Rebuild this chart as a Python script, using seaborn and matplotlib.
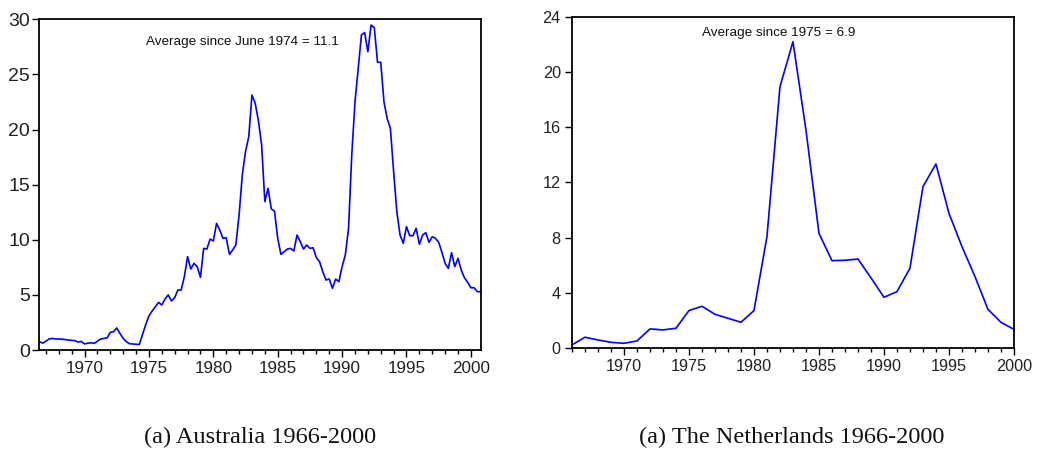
import numpy as np
import pandas as pd
import matplotlib
matplotlib.use("Agg")
import matplotlib.pyplot as plt
from matplotlib.ticker import MultipleLocator
import seaborn as sns

# Australia, quarterly, 1966Q3 .. 2000Q4
aus_start = 1966.5
aus_values = [
    0.76, 0.62,
    0.80, 1.00, 1.05, 1.00,
    1.00, 0.98, 0.95, 0.90,
    0.88, 0.85, 0.72, 0.78,
    0.55, 0.62, 0.66, 0.60,
    0.80, 1.00, 1.05, 1.10,
    1.60, 1.66, 2.00, 1.50,
    1.05, 0.75, 0.57, 0.55,
    0.53, 0.50, 1.40, 2.30,
    3.10, 3.54, 3.93, 4.32,
    4.08, 4.63, 5.00, 4.45,
    4.75, 5.44, 5.44, 6.65,
    8.47, 7.35, 7.86, 7.56,
    6.59, 9.22, 9.16, 10.07,
    9.89, 11.49, 10.89, 10.13,
    10.19, 8.68, 9.07, 9.53,
    12.25, 15.88, 18.00, 19.35,
    23.13, 22.40, 20.80, 18.60,
    13.46, 14.67, 12.80, 12.60,
    10.13, 8.68, 8.92, 9.16,
    9.22, 8.98, 10.43, 9.83,
    9.16, 9.53, 9.22, 9.28,
    8.38, 8.01, 7.10, 6.35,
    6.44, 5.60, 6.44, 6.20,
    7.56, 8.62, 11.04, 17.70,
    22.50, 25.55, 28.57, 28.80,
    27.06, 29.48, 29.24, 26.10,
    26.10, 22.53, 21.00, 20.10,
    16.20, 12.55, 10.43, 9.68,
    11.19, 10.37, 10.37, 11.04,
    9.59, 10.43, 10.64, 9.77,
    10.28, 10.13, 9.77, 8.86,
    7.86, 7.41, 8.83, 7.56,
    8.32, 7.26, 6.56, 6.14,
    5.65, 5.65, 5.29, 5.29,
]

# The Netherlands, annual, 1966 .. 2000
nl_years = list(range(1966, 2001))
nl_values = [
    0.24, 0.80, 0.60, 0.43, 0.36, 0.53, 1.40, 1.33, 1.45, 2.73,
    3.04, 2.46, 2.17, 1.88, 2.73, 8.08, 18.93, 22.19, 15.80, 8.32,
    6.34, 6.37, 6.46, 5.10, 3.69, 4.10, 5.79, 11.70, 13.34, 9.77,
    7.36, 5.19, 2.82, 1.88, 1.37,
]

x_major = [1970, 1975, 1980, 1985, 1990, 1995, 2000]
aus_note = "Average since June 1974 = 11.1"
nl_note = "Average since 1975 = 6.9"
captions = ["(a) Australia 1966-2000", "(a) The Netherlands 1966-2000"]

aus = pd.DataFrame({"year": aus_start + 0.25 * np.arange(len(aus_values)),
                    "value": aus_values})
nl = pd.DataFrame({"year": nl_years, "value": nl_values})

sns.set_style("white")
plt.rcParams["font.family"] = ["Liberation Sans", "DejaVu Sans"]

fig = plt.figure(figsize=(10.39, 4.57), dpi=100)
ax1 = fig.add_axes([0.038, 0.2341, 0.4245, 0.7236])
ax2 = fig.add_axes([0.5505, 0.2379, 0.4254, 0.7256])

for ax, df in [(ax1, aus), (ax2, nl)]:
    sns.lineplot(data=df, x="year", y="value", ax=ax, color="#0000ff",
                 linewidth=1.2)
    ax.set_xlabel("")
    ax.set_ylabel("")
    ax.set_xticks(x_major)
    ax.xaxis.set_minor_locator(MultipleLocator(1))
    for s in ax.spines.values():
        s.set_color("black")
        s.set_linewidth(1.3)
    ax.tick_params(which="both", direction="out", color="black", width=1.0,
                   bottom=True, left=True, top=False, right=False)
    ax.tick_params(which="major", length=5)
    ax.tick_params(which="minor", length=3)

ax1.set_xlim(1966.5, 2000.75)
ax1.set_ylim(0, 30)
ax1.set_yticks([0, 5, 10, 15, 20, 25, 30])
ax1.tick_params(axis="x", labelsize=12.3, pad=3, labelcolor="#222222")
ax1.tick_params(axis="y", labelsize=14, pad=2, labelcolor="#222222")
ax1.text(0.46, 0.932, aus_note, transform=ax1.transAxes, ha="center",
         va="center", fontsize=9.7, color="#111111")

ax2.set_xlim(1966, 2000)
ax2.set_ylim(0, 24)
ax2.set_yticks([0, 4, 8, 12, 16, 20, 24])
ax2.tick_params(axis="both", labelsize=11.7, pad=3, labelcolor="#222222")
ax2.text(0.468, 0.95, nl_note, transform=ax2.transAxes, ha="center",
         va="center", fontsize=9.7, color="#111111")

fig.text(0.25, 0.043, captions[0], ha="center", va="center", fontsize=17.5,
         family=["Liberation Serif", "DejaVu Serif"], color="#111111")
fig.text(0.762, 0.043, captions[1], ha="center", va="center", fontsize=17.5,
         family=["Liberation Serif", "DejaVu Serif"], color="#111111")

fig.savefig("out.png", dpi=100)
